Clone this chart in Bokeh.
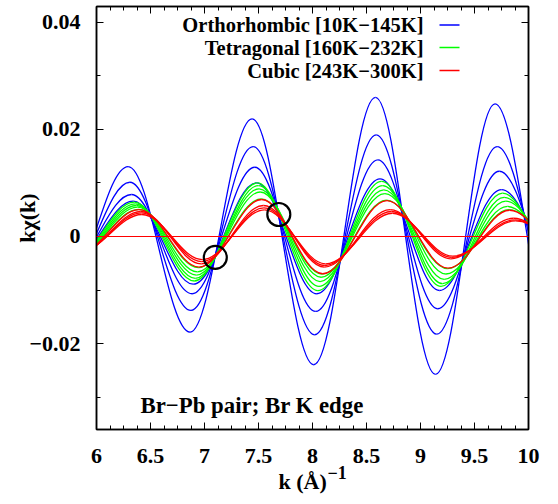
from bokeh.plotting import figure
from bokeh.models import ColumnDataSource, FixedTicker, LinearAxis, Label, Range1d, Span, Title
from bokeh.embed import file_html
from bokeh.resources import INLINE

FONT = "Liberation Serif"

# ---------------- data ----------------
# extrema (trough/peak alternating) of each k*chi(k) curve, incl. one just outside each end
B1_k = [5.725, 6.293, 6.866, 7.441, 8.012, 8.583, 9.139, 9.690, 10.26]
B1_v = [-0.0089, 0.01305, -0.01784, 0.02194, -0.02392, 0.02594, -0.02572, 0.02473, -0.0212]
B2_k = [5.74, 6.309, 6.875, 7.450, 8.020, 8.590, 9.150, 9.710, 10.28]
B2_v = [-0.0068, 0.01012, -0.01379, 0.01678, -0.01833, 0.01896, -0.01821, 0.01678, -0.0145]
B3_k = [5.755, 6.324, 6.885, 7.466, 8.030, 8.605, 9.160, 9.730, 10.30]
B3_v = [-0.0052, 0.00783, -0.01068, 0.01292, -0.01398, 0.01430, -0.01348, 0.01217, -0.0105]
B4_k = [5.77, 6.340, 6.895, 7.481, 8.040, 8.625, 9.176, 9.750, 10.32]
B4_v = [-0.0044, 0.00658, -0.0089, 0.01001, -0.01068, 0.01075, -0.01007, 0.00876, -0.0075]

G1_k = [5.78, 6.350, 6.905, 7.490, 8.050, 8.640, 9.190, 9.760, 10.33]
G1_v = [-0.0042, 0.0064, -0.0083, 0.0100, -0.0101, 0.0103, -0.0093, 0.0081, -0.0068]
G2_k = [5.79, 6.360, 6.915, 7.500, 8.060, 8.650, 9.205, 9.775, 10.345]
G2_v = [-0.0040, 0.0061, -0.0078, 0.0095, -0.0093, 0.0095, -0.0088, 0.0073, -0.0061]
G3_k = [5.80, 6.370, 6.925, 7.505, 8.070, 8.660, 9.220, 9.790, 10.36]
G3_v = [-0.0038, 0.00578, -0.0072, 0.0089, -0.0084, 0.0087, -0.0080, 0.0066, -0.0055]
G4_k = [5.81, 6.380, 6.935, 7.515, 8.080, 8.670, 9.235, 9.805, 10.375]
G4_v = [-0.0036, 0.00547, -0.0066, 0.0083, -0.0076, 0.0080, -0.0070, 0.0056, -0.0048]
G5_k = [5.82, 6.390, 6.945, 7.525, 8.090, 8.685, 9.250, 9.820, 10.39]
G5_v = [-0.0033, 0.00505, -0.0058, 0.0070, -0.0070, 0.0068, -0.0060, 0.0050, -0.0041]

R1_k = [5.825, 6.395, 6.950, 7.530, 8.095, 8.690, 9.255, 9.825, 10.395]
R1_v = [-0.0033, 0.0050, -0.0057, 0.0069, -0.00695, 0.0067, -0.0059, 0.0049, -0.0040]
R2_k = [5.84, 6.410, 6.970, 7.545, 8.110, 8.720, 9.280, 9.860, 10.43]
R2_v = [-0.0031, 0.00466, -0.0051, 0.00578, -0.00572, 0.00503, -0.00416, 0.0034, -0.0026]
R3_k = [5.845, 6.415, 6.975, 7.550, 8.115, 8.730, 9.290, 9.870, 10.44]
R3_v = [-0.0029, 0.00442, -0.0047, 0.00535, -0.00541, 0.00466, -0.00391, 0.0031, -0.0024]
R4_k = [5.85, 6.420, 6.980, 7.555, 8.120, 8.740, 9.300, 9.880, 10.45]
R4_v = [-0.0027, 0.0041, -0.0043, 0.00498, -0.00509, 0.00434, -0.00367, 0.0029, -0.0022]

# marked crossing points
circle_k = [7.10, 7.688]
circle_v = [-0.0039, 0.0041]

legend_labels = ["Orthorhombic [10K\u2212145K]", "Tetragonal [160K\u2212232K]", "Cubic [243K\u2212300K]"]
x_ticks = [6, 6.5, 7, 7.5, 8, 8.5, 9, 9.5, 10]
x_tick_labels = ["6", "6.5", "7", "7.5", "8", "8.5", "9", "9.5", "10"]
y_ticks = [-0.02, 0, 0.02, 0.04]
y_tick_labels = ["\u22120.02", "0", "0.02", "0.04"]

BLUE, GREEN, RED = "#0000ff", "#00ff00", "#ff0000"

curves = [
    (B1_k, B1_v, BLUE), (B2_k, B2_v, BLUE), (B3_k, B3_v, BLUE), (B4_k, B4_v, BLUE),
    (G1_k, G1_v, GREEN), (G2_k, G2_v, GREEN), (G3_k, G3_v, GREEN), (G4_k, G4_v, GREEN), (G5_k, G5_v, GREEN),
    (R1_k, R1_v, RED), (R2_k, R2_v, RED), (R3_k, R3_v, RED), (R4_k, R4_v, RED),
]

# ---------------- figure ----------------
X0, X1, Y0, Y1 = 6, 10, -0.036, 0.0429
p = figure(width=558, height=504, x_range=Range1d(X0, X1), y_range=Range1d(Y0, Y1),
           output_backend="svg", toolbar_location=None,
           min_border_left=96, min_border_right=30, min_border_top=6, min_border_bottom=75)
p.xgrid.visible = False
p.ygrid.visible = False
p.outline_line_color = "black"
p.outline_line_width = 1.5
p.background_fill_color = "white"
p.border_fill_color = "white"

x_minor = [6 + 0.125 * i for i in range(33)]
y_minor = [-0.03, -0.01, 0.01, 0.03]


def style_axis(ax, ticks, minor, labels=None):
    ax.ticker = FixedTicker(ticks=ticks, minor_ticks=minor)
    ax.major_tick_in = 7
    ax.major_tick_out = 0
    ax.minor_tick_in = 4
    ax.minor_tick_out = 0
    ax.major_tick_line_color = "black"
    ax.minor_tick_line_color = "black"
    ax.axis_line_color = "black"
    ax.axis_line_width = 1.5
    if labels is None:
        ax.major_label_text_font_size = "0px"
        ax.major_label_text_color = None
        ax.major_label_standoff = 0
    else:
        ax.major_label_overrides = {t: l for t, l in zip(ticks, labels)}
        ax.major_label_text_font = FONT
        ax.major_label_text_font_style = "bold"
        ax.major_label_text_font_size = "22px"
        ax.major_label_text_color = "black"


style_axis(p.xaxis[0], x_ticks, x_minor, x_tick_labels)
p.xaxis[0].major_label_standoff = 19
style_axis(p.yaxis[0], y_ticks, y_minor, y_tick_labels)
p.yaxis[0].major_label_standoff = 16
p.yaxis[0].axis_label = "k\u03c7(k)"
p.yaxis[0].axis_label_text_font = FONT
p.yaxis[0].axis_label_text_font_style = "bold"
p.yaxis[0].axis_label_text_font_size = "22px"
p.yaxis[0].axis_label_text_color = "black"
p.yaxis[0].axis_label_standoff = -14

top = LinearAxis()
style_axis(top, x_ticks, x_minor)
p.add_layout(top, "above")
right = LinearAxis()
style_axis(right, y_ticks, y_minor)
p.add_layout(right, "right")

# x-axis title: "k (Å)" with superscript "−1" (titles stacked under the axis)
gap = Title(text="\u2014", text_alpha=0, text_font_size="4px", standoff=13)
p.add_layout(gap, "below")
sup = Title(text="\u22121", align="left", offset=231, vertical_align="top", standoff=0,
            text_font=FONT, text_font_style="bold", text_font_size="18px", text_color="black")
p.add_layout(sup, "below")
main = Title(text="k (\u00c5)", align="left", offset=182, vertical_align="top", standoff=-24,
             text_font=FONT, text_font_style="bold", text_font_size="22px", text_color="black")
p.add_layout(main, "below")

# curves as smooth half-wave Bezier segments between successive extrema
C = 0.3634
seg = {k: [] for k in ("x0", "y0", "x1", "y1", "cx0", "cy0", "cx1", "cy1", "color")}
for ks, vs, col in curves:
    for i in range(len(ks) - 1):
        dx = ks[i + 1] - ks[i]
        seg["x0"].append(ks[i]); seg["y0"].append(vs[i])
        seg["x1"].append(ks[i + 1]); seg["y1"].append(vs[i + 1])
        seg["cx0"].append(ks[i] + C * dx); seg["cy0"].append(vs[i])
        seg["cx1"].append(ks[i + 1] - C * dx); seg["cy1"].append(vs[i + 1])
        seg["color"].append(col)

n_bg = sum(len(k) - 1 for k, v, c in curves if c != RED)
src_bg = ColumnDataSource({k: v[:n_bg] for k, v in seg.items()})
src_red = ColumnDataSource({k: v[n_bg:] for k, v in seg.items()})

p.bezier(x0="x0", y0="y0", x1="x1", y1="y1", cx0="cx0", cy0="cy0", cx1="cx1", cy1="cy1",
         line_color="color", line_width=1.3, source=src_bg)
p.add_layout(Span(location=0, dimension="width", line_color=RED, line_width=1.2))
p.bezier(x0="x0", y0="y0", x1="x1", y1="y1", cx0="cx0", cy0="cy0", cx1="cx1", cy1="cy1",
         line_color="color", line_width=1.3, source=src_red)

p.scatter(circle_k, circle_v, marker="circle", size=23, fill_color=None,
          line_color="black", line_width=2.2)


# helpers to place annotation text by pixel position on the canvas
def kx(px):
    return X0 + (px - 96) / 432 * (X1 - X0)


def vy(py):
    return Y1 - (py - 6) / 423 * (Y1 - Y0)


def txt(px, py, s, size, align="left", baseline="alphabetic"):
    p.add_layout(Label(x=kx(px), y=vy(py), text=s, text_font=FONT, text_font_style="bold",
                       text_font_size=size, text_align=align, text_baseline=baseline,
                       text_color="black"))


# legend (text left, sample right, like gnuplot)
leg_rows = [24.5, 47, 70]
for lab, py in zip(legend_labels, leg_rows):
    txt(423, py, lab, "20.5px", align="right", baseline="middle")
p.segment(x0=[kx(439)] * 3, x1=[kx(459)] * 3, y0=[vy(r) for r in leg_rows],
          y1=[vy(r) for r in leg_rows], line_color=[BLUE, GREEN, RED], line_width=1.3)

txt(140, 405, "Br\u2212Pb pair; Br K edge", "22.8px")

open("out.html", "w").write(file_html(p, INLINE))
